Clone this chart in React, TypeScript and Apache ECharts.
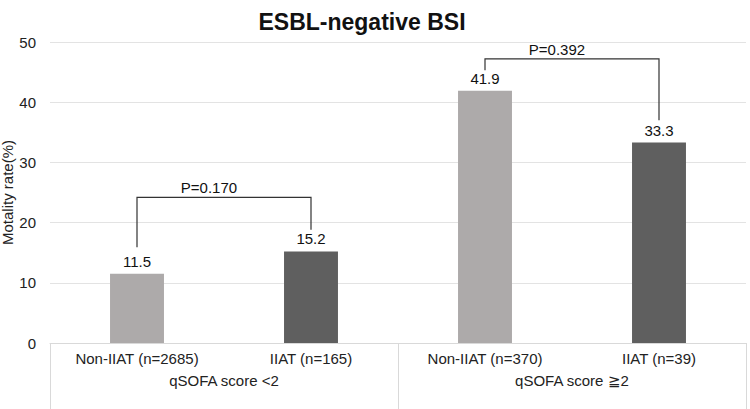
import React, { useEffect, useRef } from "react";
import * as echarts from "echarts";

const categories = ["Non-IIAT (n=2685)", "IIAT (n=165)", "Non-IIAT (n=370)", "IIAT (n=39)"];
const groups = ["qSOFA score <2", "qSOFA score ≧2"];
const values = [11.5, 15.2, 41.9, 33.3];
const barColors = ["#ADAAAA", "#5F5F5F", "#ADAAAA", "#5F5F5F"];
// [leftCat, rightCat, topY, leftBottomY, rightBottomY, label]
const brackets: [number, number, number, number, number, string][] = [
  [0, 1, 24.2, 15.9, 18.8, "P=0.170"],
  [2, 3, 47.2, 45.3, 37.0, "P=0.392"],
];

const FONT = "Liberation Sans, Arial, sans-serif";

export default function App() {
  const ref = useRef<HTMLDivElement>(null);
  useEffect(() => {
    const chart = echarts.init(ref.current!, null, { renderer: "svg" });
    chart.setOption({
      animation: false,
      textStyle: { fontFamily: FONT },
      title: {
        text: "ESBL-negative BSI",
        left: 357,
        textAlign: "center",
        top: 5,
        textStyle: { fontSize: 23, fontWeight: "bold", color: "#111", fontFamily: FONT },
      },
      grid: { left: 50, right: 4, top: 42, bottom: 66, outerBoundsMode: "none", containLabel: false },
      xAxis: [
        {
          type: "category",
          data: categories,
          axisLine: { lineStyle: { color: "#D9D9D9" } },
          axisTick: { show: false },
          axisLabel: { color: "#222", fontSize: 15, margin: 8, fontFamily: FONT },
        },
        {
          type: "category",
          data: groups,
          position: "bottom",
          axisLine: { show: false },
          axisTick: { show: true, length: 66, lineStyle: { color: "#D9D9D9" } },
          axisLabel: { color: "#222", fontSize: 15, margin: 30, fontFamily: FONT },
        },
      ],
      yAxis: {
        type: "value",
        min: 0,
        max: 50,
        interval: 10,
        name: "Motality rate(%)",
        nameLocation: "middle",
        nameGap: 35,
        nameMoveOverlap: false,
        nameRotate: 90,
        nameTextStyle: { color: "#222", fontSize: 15, fontFamily: FONT },
        axisLine: { show: false },
        axisTick: { show: false },
        axisLabel: { color: "#222", fontSize: 15, margin: 14, fontFamily: FONT },
        splitLine: { lineStyle: { color: "#E3E3E3", width: 1 } },
      },
      series: [
        {
          type: "bar",
          xAxisIndex: 0,
          barWidth: "31%",
          data: values.map((v, i) => ({ value: v, itemStyle: { color: barColors[i] } })),
          label: {
            show: true,
            position: "top",
            distance: 5,
            color: "#111",
            fontSize: 15,
            fontFamily: FONT,
            formatter: (p: any) => p.value.toFixed(1),
          },
        },
        {
          type: "custom",
          xAxisIndex: 0,
          data: brackets,
          renderItem: (params: any, api: any) => {
            const b = brackets[params.dataIndex];
            const pL0 = api.coord([b[0], b[3]]);
            const pLt = api.coord([b[0], b[2]]);
            const pRt = api.coord([b[1], b[2]]);
            const pR0 = api.coord([b[1], b[4]]);
            return {
              type: "group",
              children: [
                {
                  type: "polyline",
                  shape: { points: [pL0, pLt, pRt, pR0] },
                  style: { stroke: "#333", lineWidth: 1.2, fill: "none" },
                },
                {
                  type: "text",
                  x: (pLt[0] + pRt[0]) / 2 - 15,
                  y: pLt[1] - 2,
                  style: {
                    text: b[5],
                    fill: "#111",
                    fontSize: 15,
                    fontFamily: FONT,
                    align: "center",
                    verticalAlign: "bottom",
                  },
                },
              ],
            };
          },
        },
      ],
    });
    return () => chart.dispose();
  }, []);
  return <div ref={ref} style={{ width: 750, height: 409, position: "absolute", left: 0, top: 0 }} />;
}
